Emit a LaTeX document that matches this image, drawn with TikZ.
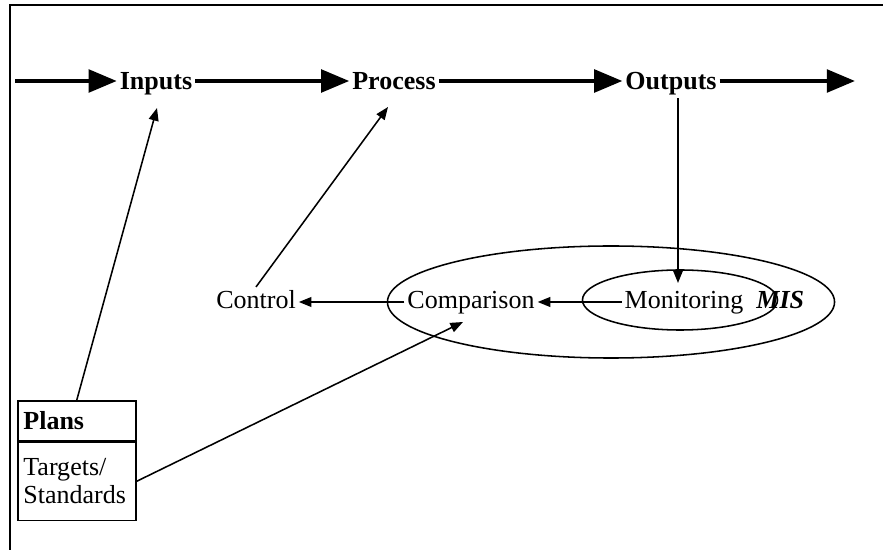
\documentclass[tikz,border=0pt]{standalone}
\usepackage{fontspec}
\setmainfont{Liberation Serif}
\usetikzlibrary{positioning}
\usetikzlibrary{arrows.meta}
\usetikzlibrary{shapes.geometric}

\begin{document}
\begin{tikzpicture}
  [
    x=0.025cm,y=-0.025cm,
    font=\fontsize{18.5}{20}\selectfont,
    stage/.style={font=\fontsize{18.5}{20}\selectfont\bfseries,inner sep=2pt,
      text height=13pt,text depth=4pt},
    word/.style={inner sep=2pt,text height=13pt,text depth=4pt},
    flow/.style={line width=2.8pt,-{Triangle[length=20pt,width=16pt]}},
    link/.style={line width=1.1pt,-{Triangle[length=9pt,width=7pt]}},
    ring/.style={ellipse,draw,line width=1.1pt,inner sep=0pt},
    cell/.style={
      rectangle,
      draw,
      line width=1.1pt,
      inner sep=4pt,
      text width=2.95cm-8pt,
      align=left
    },
  ]
  \useasboundingbox (0,0) rectangle (883,550);
  % frame
  \draw[line width=1.4pt] (883,5) -- (10,5) -- (10,550);

  % main row
  \coordinate (start) at (15,81);
  \coordinate (stop)  at (855,81);
  \node[stage] (inputs)  at (156,83) {Inputs};
  \node[stage] (process) at (394,83) {Process};
  \node[stage] (outputs) at (671,83) {Outputs};

  \draw[flow] (start)   -- (start -| inputs.west);
  \draw[flow] (inputs.east |- start)  -- (start -| process.west);
  \draw[flow] (process.east |- start) -- (start -| outputs.west);
  \draw[flow] (outputs.east |- start) -- (stop);

  % control loop
  \node[ring,minimum width=11.175cm,minimum height=2.8cm] (outer) at (611,302) {};
  \node[ring,minimum width=4.875cm,minimum height=1.5cm]  (inner) at (680,300) {};
  \node[word] (monitoring) at (684,302) {Monitoring};
  \node[word,right=5pt of monitoring] (mis) {\textbf{\textit{MIS}}};
  \node[word] (comparison) at (471,302) {Comparison};
  \node[word] (control)    at (256,302) {Control};

  \coordinate (montip)  at (678,283);
  \coordinate (cmptip)  at (463,322);
  \coordinate (proctip) at (388,107);
  \coordinate (intip)   at (157,108);

  \draw[link] (outputs.south -| montip) -- (montip);
  \draw[link] (monitoring) -- (comparison);
  \draw[link] (comparison) -- (control);
  \draw[link] (control.north) -- (proctip);

  % plans box
  \node[cell,minimum height=1cm,anchor=north west] (plans) at (17,400) {\textbf{Plans}};
  \node[cell,minimum height=1.95cm,below=0pt of plans] (targets) {Targets/\\Standards};

  \draw[link] (plans.north) -- (intip);
  \draw[link] (targets.east) -- (cmptip);
\end{tikzpicture}
\end{document}
